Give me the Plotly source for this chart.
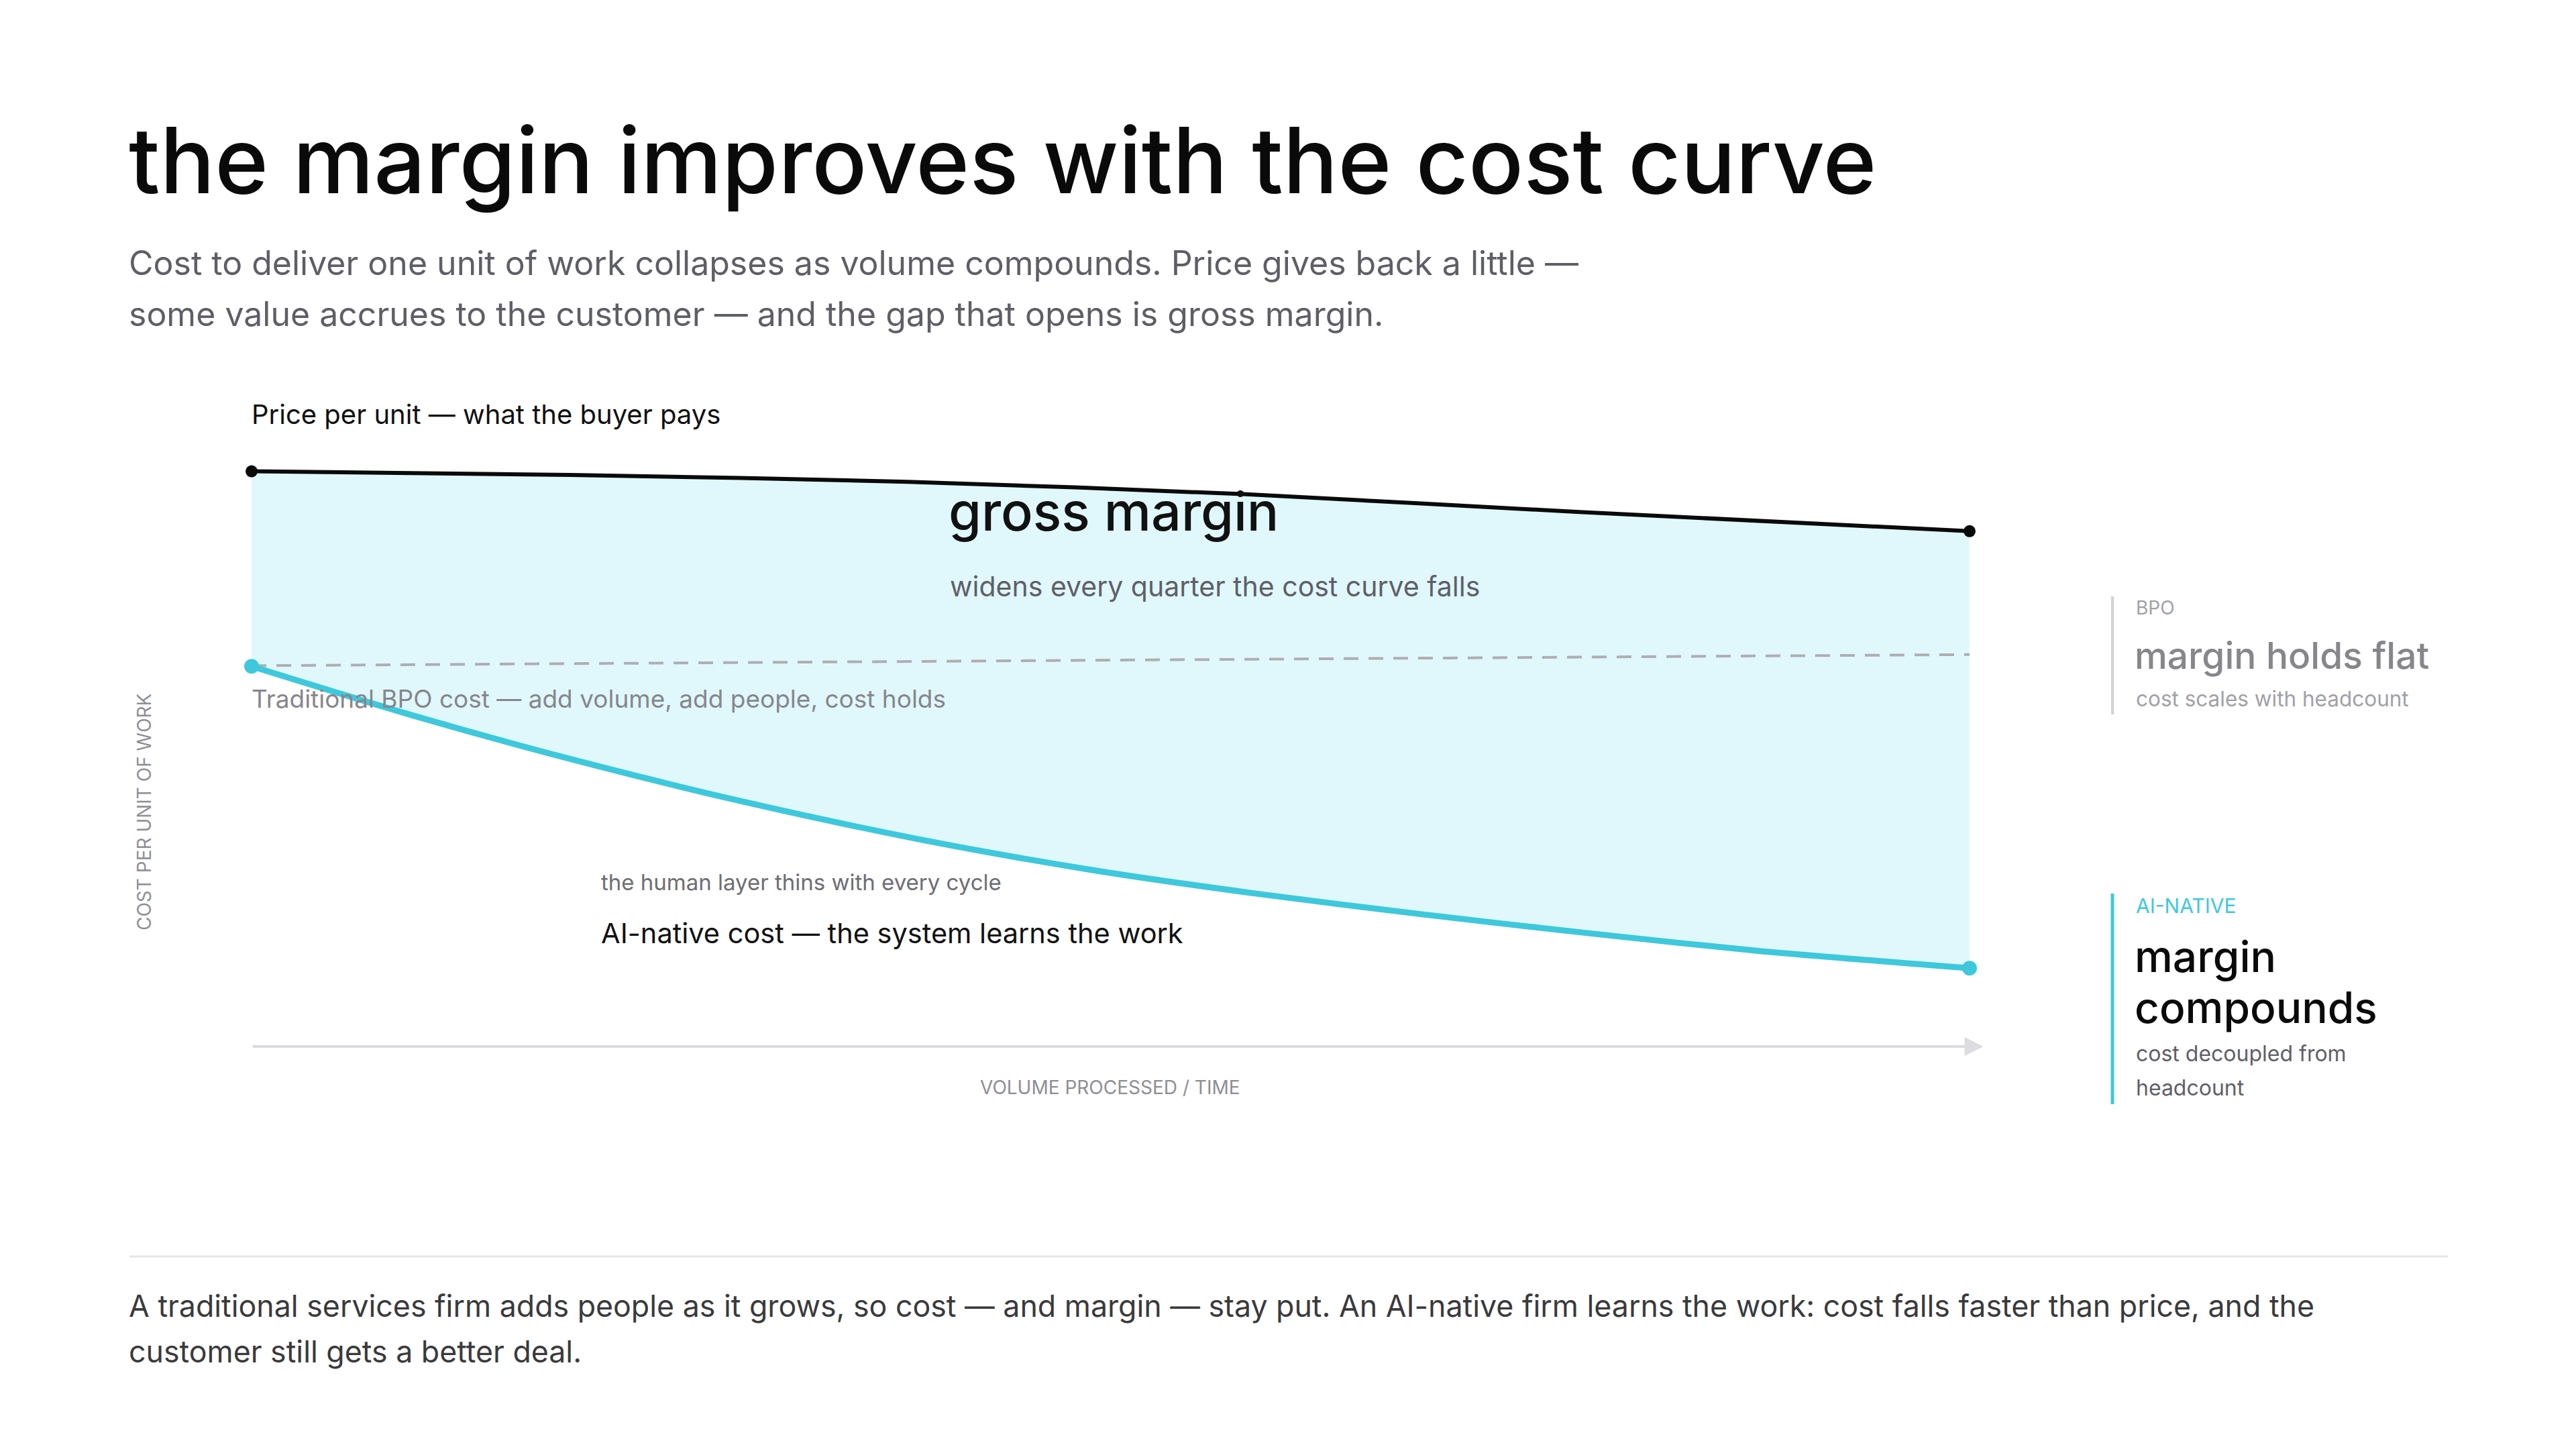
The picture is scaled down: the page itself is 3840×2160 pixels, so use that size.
import plotly.graph_objects as go

# ---------------- data ----------------
price_x = [0, 1.86, 3.82, 5.77, 7.73, 10]
price_y = [93.2, 92.6, 91.5, 89.5, 86.6, 83.5]

ai_x = [0, 0.98, 1.95, 2.92, 3.90, 4.87, 5.84, 6.82, 7.80, 8.77, 10]
ai_y = [61.6, 53.3, 45.9, 39.3, 33.5, 28.7, 24.8, 21.4, 18.3, 15.5, 12.7]

bpo_x = [0, 10]
bpo_y = [61.7, 63.5]

title_text = "the margin improves with the cost curve"
subtitle_lines = [
    "Cost to deliver one unit of work collapses as volume compounds. Price gives back a little —",
    "some value accrues to the customer — and the gap that opens is gross margin.",
]
footer_lines = [
    "A traditional services firm adds people as it grows, so cost — and margin — stay put. An AI-native firm learns the work: cost falls faster than price, and the",
    "customer still gets a better deal.",
]

# ---------------- style ----------------
W, H = 3840, 2160
OFF = 8  # page body margin
FONT = "Inter"
CYAN = "#3ec8dc"
FILL = "#e0f8fc"
BLACK = "#0a0a0a"


def px(x):
    return (x - OFF) / W


def py(y):
    return 1 - (y - OFF) / H


fig = go.Figure()

# fill between price and AI-native cost
fig.add_trace(go.Scatter(x=price_x, y=price_y, mode="lines",
                         line=dict(width=0, shape="spline", smoothing=0.8, color=BLACK),
                         hoverinfo="skip"))
fig.add_trace(go.Scatter(x=ai_x, y=ai_y, mode="lines", fill="tonexty",
                         fillcolor=FILL,
                         line=dict(width=0, shape="spline", smoothing=0.8, color=CYAN),
                         hoverinfo="skip"))

# BPO dashed
fig.add_trace(go.Scatter(x=bpo_x, y=bpo_y, mode="lines",
                         line=dict(width=4, color="#aeaeb2", dash="22px,15px")))
# price line
fig.add_trace(go.Scatter(x=price_x, y=price_y, mode="lines",
                         line=dict(width=6, shape="spline", smoothing=0.8, color=BLACK)))
# AI line
fig.add_trace(go.Scatter(x=ai_x, y=ai_y, mode="lines",
                         line=dict(width=9, shape="spline", smoothing=0.8, color=CYAN)))
# endpoint markers
fig.add_trace(go.Scatter(x=[price_x[0], price_x[-1]], y=[price_y[0], price_y[-1]],
                         mode="markers", marker=dict(size=18, color=BLACK),
                         cliponaxis=False))
fig.add_trace(go.Scatter(x=[ai_x[0], ai_x[-1]], y=[ai_y[0], ai_y[-1]],
                         mode="markers", marker=dict(size=22, color=CYAN),
                         cliponaxis=False))

annotations = []


def txt(text, x, y, size, color, weight=400, xanchor="left", angle=0):
    annotations.append(dict(
        text=text, x=px(x), y=py(y), xref="paper", yref="paper",
        xanchor=xanchor, yanchor="middle", showarrow=False, textangle=angle,
        font=dict(family=FONT, size=size, color=color, weight=weight)))


# title block
txt(title_text, 190, 238, 136, BLACK, weight=500)
txt(subtitle_lines[0], 190, 392, 50, "#5e5e66")
txt(subtitle_lines[1], 190, 468, 50, "#5e5e66")

# chart annotations
txt("Price per unit — what the buyer pays", 373, 617, 40, "#111111")
txt("gross margin", 1412, 762, 79, "#111111", weight=500)
txt("widens every quarter the cost curve falls", 1414, 874, 41, "#5f5f66")
txt("Traditional BPO cost — add volume, add people, cost holds", 373, 1041, 37, "#86868b")
txt("the human layer thins with every cycle", 894, 1315, 33, "#6e6e73")
txt("AI-native cost — the system learns the work", 894, 1391, 41.5, "#111111")

# axis titles
txt("COST PER UNIT OF WORK", 215, 1210, 28, "#8e8e93", xanchor="center", angle=-90)
txt("VOLUME PROCESSED / TIME", 1655, 1621, 28, "#8e8e93", xanchor="center")

# right panel: BPO
txt("BPO", 3182, 906, 28, "#a1a1a6")
txt("margin holds flat", 3180, 977, 55, "#86868b", weight=500)
txt("cost scales with headcount", 3182, 1041, 31.5, "#a1a1a6")
# right panel: AI-native
txt("AI-NATIVE", 3182, 1350, 30, CYAN)
txt("margin", 3180, 1425, 64, BLACK, weight=500)
txt("compounds", 3180, 1501, 64, BLACK, weight=500)
txt("cost decoupled from", 3182, 1570, 32, "#5f5f66")
txt("headcount", 3182, 1621, 32, "#5f5f66")

# footer
txt(footer_lines[0], 190, 1947, 44.7, "#3a3a3c")
txt(footer_lines[1], 190, 2015, 44.7, "#3a3a3c")

# x axis arrow
annotations.append(dict(
    x=price_x[-1] + 0.08, y=0, ax=price_x[0], ay=0, xref="x", yref="y",
    axref="x", ayref="y", showarrow=True, arrowhead=2, arrowsize=1.4,
    arrowwidth=4, arrowcolor="#dcdce1", text=""))

shapes = [
    # BPO bar
    dict(type="line", xref="paper", yref="paper", x0=px(3149), x1=px(3149),
         y0=py(889), y1=py(1065), line=dict(color="#d1d1d6", width=4)),
    # AI bar
    dict(type="line", xref="paper", yref="paper", x0=px(3149), x1=px(3149),
         y0=py(1332), y1=py(1646), line=dict(color=CYAN, width=5)),
    # separator
    dict(type="line", xref="paper", yref="paper", x0=px(193), x1=px(3649),
         y0=py(1873), y1=py(1873), line=dict(color="#e5e5ea", width=3)),
]

# axes mapping: x=0 at 375px, 256.1 px/unit ; y=0 at 1560px, 9.2 px/unit
X0, Y0 = 375 - OFF, 1560 - OFF
x_dom = [0.05, 0.85]
x_lo = -(X0 - x_dom[0] * W) / 256.1
x_hi = (x_dom[1] * W - X0) / 256.1
y_lo = -(H - Y0) / 9.2
y_hi = Y0 / 9.2

fig.update_layout(
    width=W, height=H, margin=dict(l=0, r=0, t=0, b=0, autoexpand=False),
    paper_bgcolor="white", plot_bgcolor="white", showlegend=False,
    xaxis=dict(domain=x_dom, range=[x_lo, x_hi], visible=False, fixedrange=True),
    yaxis=dict(domain=[0, 1], range=[y_lo, y_hi], visible=False, fixedrange=True),
    annotations=annotations, shapes=shapes,
)

fig.write_html("out.html")
